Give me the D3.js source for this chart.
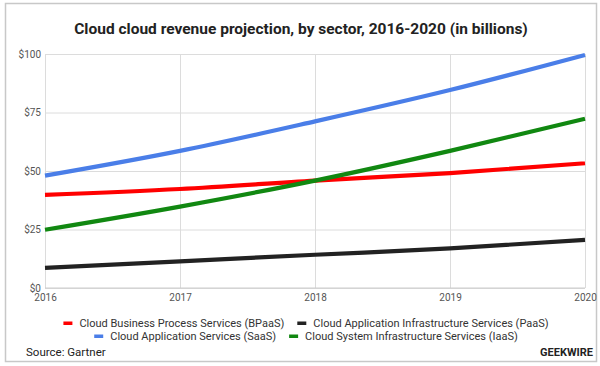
<!DOCTYPE html>
<html><head><meta charset="utf-8">
<script src="https://cdn.jsdelivr.net/npm/d3@7"></script>
<style>
html,body{margin:0;padding:0;background:#fff;}
svg{display:block;font-family:Roboto,"Noto Sans",sans-serif;}
</style></head>
<body><svg id="chart" width="600" height="366"></svg>
<script>
const years = [2016, 2017, 2018, 2019, 2020];
const yTicks = [0, 25, 50, 75, 100];
const seriesNames = [
  "Cloud Business Process Services (BPaaS)",
  "Cloud Application Infrastructure Services (PaaS)",
  "Cloud Application Services (SaaS)",
  "Cloud System Infrastructure Services (IaaS)"
];
const seriesColors = ["#ff0000", "#222222", "#4a7ee8", "#118811"];
const bpaas = [39.8, 42.3, 45.9, 49.1, 53.3];
const paas = [8.6, 11.4, 14.2, 16.9, 20.6];
const saas = [48.0, 58.6, 71.2, 84.6, 99.6];
const iaas = [24.9, 34.8, 45.9, 58.6, 72.3];
const seriesValues = [bpaas, paas, saas, iaas];
const title = "Cloud cloud revenue projection, by sector, 2016-2020 (in billions)";

const svg = d3.select("#chart");
svg.append("rect").attr("x",5.5).attr("y",3.5).attr("width",591).attr("height",358)
  .attr("fill","#fff").attr("stroke","#c8c8c8").attr("stroke-width",1.5);

svg.append("text").attr("x",301).attr("y",34).attr("text-anchor","middle")
  .attr("font-size",15.5).attr("font-weight","bold").attr("fill","#222").text(title);

const x = d3.scaleLinear().domain([2016,2020]).range([45,585]);
const y = d3.scaleLinear().domain([0,100]).range([288,54]);

// gridlines
const g = svg.append("g");
g.append("g").attr("transform","translate(45,0)")
  .call(d3.axisLeft(y).tickValues(yTicks).tickSize(-540).tickFormat(""))
  .call(a=>{a.select(".domain").remove();a.selectAll("line").attr("stroke","#dcdcdc");});
g.append("g").attr("transform","translate(0,288)")
  .call(d3.axisBottom(x).tickValues(years).tickSize(-234).tickFormat(""))
  .call(a=>{a.select(".domain").remove();a.selectAll("line").attr("stroke","#dcdcdc");});

// y labels
svg.append("g").attr("transform","translate(45,0)")
  .call(d3.axisLeft(y).tickValues(yTicks).tickSize(0).tickPadding(4).tickFormat(d=>"$"+d))
  .call(a=>{a.select(".domain").remove();a.selectAll("text").attr("font-size",10).attr("fill","#555").attr("font-family","Roboto");});
// x labels
svg.append("g").attr("transform","translate(0,288)")
  .call(d3.axisBottom(x).tickValues(years).tickSize(0).tickPadding(6).tickFormat(d3.format("d")))
  .call(a=>{a.select(".domain").remove();a.selectAll("text").attr("font-size",10).attr("fill","#555").attr("font-family","Roboto");});

// baseline
svg.append("line").attr("x1",45).attr("x2",585).attr("y1",y(0)).attr("y2",y(0)).attr("stroke","#ccc");

const line = d3.line().x((d,i)=>x(years[i])).y(d=>y(d)).curve(d3.curveMonotoneX);
const order = [1,0,3,2];
order.forEach(k=>{
  svg.append("path").attr("d",line(seriesValues[k])).attr("fill","none")
    .attr("stroke",seriesColors[k]).attr("stroke-width",4.2).attr("stroke-linecap","butt");
});

// legend
const rows = [[0,1],[2,3]];
const rowY = [323, 336];
rows.forEach((row,ri)=>{
  const lg = svg.append("g");
  let cx = 0;
  row.forEach((k,j)=>{
    const it = lg.append("g").attr("transform",`translate(${cx},0)`);
    it.append("rect").attr("x",0).attr("y",-1.5).attr("width",9).attr("height",3.5).attr("fill",seriesColors[k]);
    const t = it.append("text").attr("x",16).attr("y",4).attr("font-size",11).attr("fill","#333").text(seriesNames[k]);
    cx += 16 + t.node().getComputedTextLength() + 13;
  });
  const w = cx - 13;
  lg.attr("transform",`translate(${306 - w/2},${rowY[ri]})`);
});

svg.append("text").attr("x",26).attr("y",356).attr("font-size",11.5).attr("fill","#222").text("Source: Gartner");
svg.append("text").attr("x",593).attr("y",356).attr("text-anchor","end").attr("font-size",11).attr("font-weight","bold").attr("fill","#222").text("GEEKWIRE");
</script></body></html>
